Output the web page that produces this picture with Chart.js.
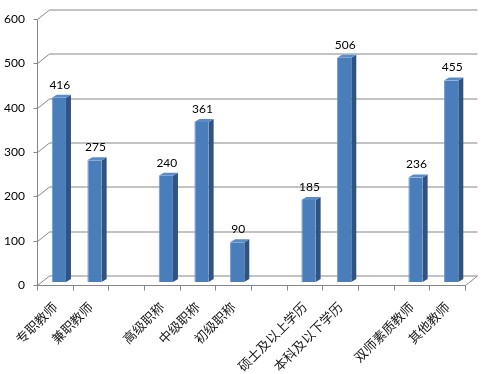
<!DOCTYPE html>
<html>
<head>
<meta charset="utf-8">
<script src="https://cdn.jsdelivr.net/npm/chart.js@4.4.0/dist/chart.umd.min.js"></script>
<style>
  html, body { margin: 0; padding: 0; background: #fff; }
  #wrap { width: 484px; height: 374px; }
</style>
</head>
<body>
<div id="wrap"><canvas id="teacherChart"></canvas></div>
<script>
// categories (empty strings are the gaps between groups)
const categories = ['专职教师', '兼职教师', '', '高级职称', '中级职称', '初级职称', '', '硕士及以上学历', '本科及以下学历', '', '双师素质教师', '其他教师'];
const teacherCounts = [416, 275, null, 240, 361, 90, null, 185, 506, null, 236, 455];
const yTicks = [0, 100, 200, 300, 400, 500, 600];

// fake 3D offsets
const BACK_DX = 12, BACK_DY = -9.5;   // back wall relative to front axis
const BAR_DX = 4, BAR_DY = -3;        // bar plane relative to front axis
const DEPTH_DX = 5, DEPTH_DY = -3;    // bar thickness

const gridColor = '#878787';

const wallPlugin = {
  id: 'wall3d',
  beforeDatasetsDraw(chart) {
    const { ctx, chartArea: a, scales: { x, y } } = chart;
    const lx = Math.round(a.left) + 0.5;
    const rx = Math.round(a.right) + 0.5;
    const y0 = Math.round(y.getPixelForValue(0)) + 0.5;
    ctx.save();
    ctx.strokeStyle = gridColor;
    ctx.lineWidth = 1;
    ctx.beginPath();
    // back wall gridlines with the little diagonal from the front axis
    yTicks.forEach(v => {
      const py = Math.round(y.getPixelForValue(v)) + 0.5;
      ctx.moveTo(lx - 4, py);
      ctx.lineTo(lx, py);
      ctx.lineTo(lx + BACK_DX, py + BACK_DY);
      ctx.lineTo(rx + BACK_DX, py + BACK_DY);
    });
    // front value axis
    ctx.moveTo(lx, Math.round(y.getPixelForValue(600)) + 0.5);
    ctx.lineTo(lx, y0);
    // floor front edge + right diagonal
    ctx.lineTo(rx, y0);
    ctx.lineTo(rx + BACK_DX, y0 + BACK_DY);
    // category ticks at slot boundaries
    const slot = (a.right - a.left) / categories.length;
    for (let i = 0; i <= categories.length; i++) {
      const px = Math.round(a.left + i * slot) + 0.5;
      ctx.moveTo(px, y0);
      ctx.lineTo(px, y0 + 5);
    }
    ctx.stroke();
    ctx.restore();

    // move the bars to the middle depth plane
    ctx.save();
    ctx.translate(BAR_DX, BAR_DY);
  },
  afterDatasetsDraw(chart) {
    const { ctx } = chart;
    const meta = chart.getDatasetMeta(0);
    meta.data.forEach((bar, i) => {
      const v = teacherCounts[i];
      if (v === null) return;
      const l = bar.x - bar.width / 2, r = bar.x + bar.width / 2;
      const top = bar.y, bottom = bar.base;
      // side face
      ctx.fillStyle = '#2f5483';
      ctx.beginPath();
      ctx.moveTo(r, top);
      ctx.lineTo(r + DEPTH_DX, top + DEPTH_DY);
      ctx.lineTo(r + DEPTH_DX, bottom + DEPTH_DY);
      ctx.lineTo(r, bottom);
      ctx.closePath();
      ctx.fill();
      // top face
      ctx.fillStyle = '#5a8bc8';
      ctx.beginPath();
      ctx.moveTo(l, top);
      ctx.lineTo(l + DEPTH_DX, top + DEPTH_DY);
      ctx.lineTo(r + DEPTH_DX, top + DEPTH_DY);
      ctx.lineTo(r, top);
      ctx.closePath();
      ctx.fill();
      // value label
      ctx.fillStyle = '#000';
      ctx.font = '12px Lato, "Open Sans", sans-serif';
      ctx.textAlign = 'center';
      ctx.textBaseline = 'alphabetic';
      ctx.fillText(String(v), bar.x + 1, top + DEPTH_DY - 6);
    });
    ctx.restore();
  }
};

new Chart(document.getElementById('teacherChart'), {
  type: 'bar',
  data: {
    labels: categories,
    datasets: [{
      data: teacherCounts,
      backgroundColor: '#4a7ebb',
      borderColor: '#6f9ad0',
      borderWidth: { left: 1, top: 0, right: 0, bottom: 0 },
      barPercentage: 0.4,
      categoryPercentage: 1.0
    }]
  },
  options: {
    responsive: true,
    maintainAspectRatio: false,
    animation: false,
    layout: { padding: { top: 15, right: 19, left: 0, bottom: 0 } },
    plugins: {
      legend: { display: false },
      tooltip: { enabled: false }
    },
    scales: {
      x: {
        grid: { display: false, drawTicks: false },
        border: { display: false },
        ticks: {
          minRotation: 45,
          maxRotation: 45,
          autoSkip: false,
          padding: 14,
          color: '#1a1a1a',
          font: { family: '"Noto Sans CJK SC", sans-serif', size: 13 }
        },
        afterFit(scale) { scale.height = 89; }
      },
      y: {
        min: 0,
        max: 600,
        grid: { display: false, drawTicks: false },
        border: { display: false },
        ticks: {
          stepSize: 100,
          padding: 12,
          color: '#000',
          font: { family: 'Lato, "Open Sans", sans-serif', size: 12 }
        },
        afterFit(scale) { scale.width = 37; }
      }
    }
  },
  plugins: [wallPlugin]
});
</script>
</body>
</html>
